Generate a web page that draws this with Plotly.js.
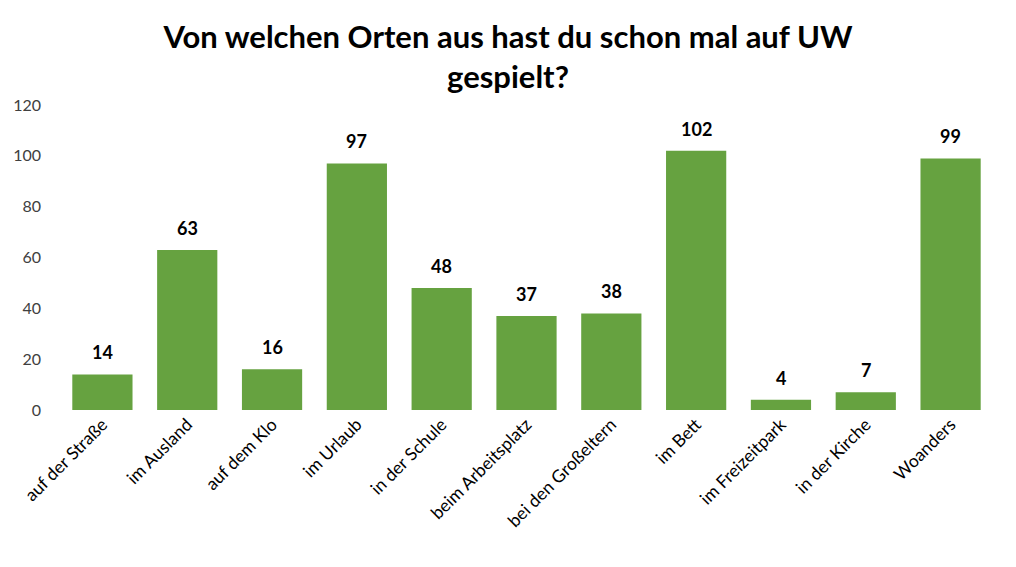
<!DOCTYPE html>
<html>
<head>
<meta charset="utf-8">
<script src="https://cdn.plot.ly/plotly-3.0.1.min.js"></script>
<style>html,body{margin:0;padding:0;background:#fff;}#chart{width:1016px;height:567px;}</style>
</head>
<body>
<div id="chart"></div>
<script>
const categories = ["auf der Straße","im Ausland","auf dem Klo","im Urlaub","in der Schule","beim Arbeitsplatz","bei den Großeltern","im Bett","im Freizeitpark","in der Kirche","Woanders"];
const values = [14, 63, 16, 97, 48, 37, 38, 102, 4, 7, 99];
const yTicks = [0, 20, 40, 60, 80, 100, 120];

const font = "Lato, 'Open Sans', sans-serif";

const trace = {
  type: "bar",
  x: categories,
  y: values,
  marker: {color: "#66A240", line: {width: 0}},
  hoverinfo: "x+y"
};

const annotations = categories.map((c, i) => ({
  x: c, y: values[i], xref: "x", yref: "y",
  text: "<b>" + values[i] + "</b>",
  showarrow: false, yshift: 22,
  font: {family: font, size: 18, color: "#000"}
}));

const layout = {
  width: 1016, height: 567,
  margin: {l: 60, r: 23, t: 105, b: 157},
  paper_bgcolor: "#fff", plot_bgcolor: "#fff",
  title: {
    text: "<b>Von welchen Orten aus hast du schon mal auf UW<br>gespielt?</b>",
    font: {family: font, size: 31, color: "#000"},
    x: 0.5, xanchor: "center", y: 0.915, yanchor: "top"
  },
  bargap: 0.29,
  showlegend: false,
  xaxis: {
    tickangle: -45, showline: false, ticks: "", showgrid: false,
    tickfont: {family: font, size: 17.5, color: "#000"}
  },
  yaxis: {
    range: [0, 120], tickvals: yTicks, showgrid: false, zeroline: false,
    showline: false, ticks: "", ticklabelstandoff: 18,
    tickfont: {family: font, size: 16, color: "#404040"}
  },
  annotations: annotations
};

Plotly.newPlot("chart", [trace], layout, {displayModeBar: false, staticPlot: true});
</script>
</body>
</html>
